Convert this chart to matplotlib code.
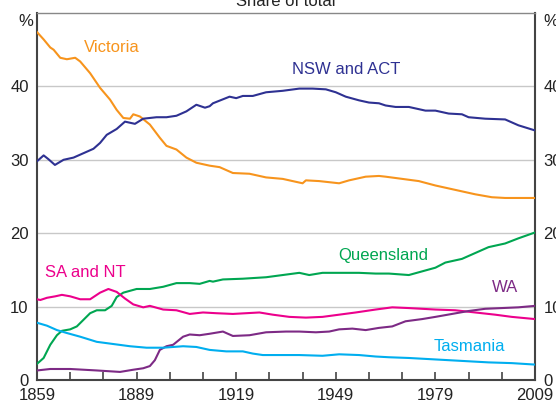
import matplotlib
matplotlib.use("Agg")
import matplotlib.pyplot as plt
from matplotlib.ticker import MultipleLocator, FixedLocator

plt.rcParams['font.family'] = ['Liberation Sans', 'DejaVu Sans']

# ---- data (share of total population, %) ----
vic_years = [1859, 1861, 1863, 1864, 1866, 1868, 1870.5, 1872, 1875, 1878, 1881, 1883, 1885, 1887, 1888,
             1890, 1893, 1896, 1898, 1901, 1904, 1907, 1911, 1914, 1918, 1923, 1928, 1933, 1939, 1940,
             1944, 1950, 1953, 1958, 1962, 1964, 1969, 1974, 1979, 1982, 1987, 1991, 1996, 2000, 2009]
vic_vals = [47.4, 46.4, 45.3, 45.0, 43.9, 43.7, 43.9, 43.4, 41.8, 39.8, 38.2, 36.8, 35.7, 35.6, 36.2,
            35.9, 34.8, 33.0, 31.9, 31.4, 30.3, 29.6, 29.2, 29.0, 28.2, 28.1, 27.6, 27.4, 26.8, 27.2,
            27.1, 26.8, 27.2, 27.7, 27.8, 27.7, 27.4, 27.1, 26.5, 26.2, 25.7, 25.3, 24.9, 24.8, 24.8]

nsw_years = [1859, 1861, 1862.4, 1864.4, 1867, 1870, 1873, 1876, 1878, 1880, 1883, 1885.5, 1888.5, 1891,
             1895, 1898, 1901, 1904, 1907, 1909.6, 1911, 1912, 1917, 1919, 1921, 1924, 1928, 1933, 1938,
             1942, 1946, 1949, 1952, 1956, 1959, 1962, 1964, 1967, 1971, 1976, 1979, 1983, 1987, 1989,
             1994, 2000, 2004, 2009]
nsw_vals = [29.8, 30.6, 30.1, 29.3, 30.0, 30.3, 30.9, 31.5, 32.3, 33.4, 34.2, 35.2, 34.9, 35.6,
            35.8, 35.8, 36.0, 36.6, 37.5, 37.1, 37.3, 37.7, 38.6, 38.4, 38.7, 38.7, 39.2, 39.4, 39.7,
            39.7, 39.6, 39.2, 38.6, 38.1, 37.8, 37.7, 37.4, 37.2, 37.2, 36.7, 36.7, 36.3, 36.2, 35.8,
            35.6, 35.5, 34.7, 34.0]

qld_years = [1859, 1861, 1863, 1865, 1866.5, 1869, 1871, 1873, 1875, 1877, 1879.5, 1881.5, 1883, 1885,
             1889, 1893, 1897, 1901, 1905, 1908, 1911, 1912, 1915, 1921, 1928, 1933, 1938, 1941, 1945,
             1950, 1956, 1961, 1965, 1971, 1975, 1979, 1982, 1987, 1991, 1995, 2000, 2004, 2009]
qld_vals = [2.2, 3.0, 4.8, 6.1, 6.7, 6.9, 7.3, 8.2, 9.1, 9.5, 9.5, 10.1, 11.3, 11.9,
            12.4, 12.4, 12.7, 13.2, 13.2, 13.1, 13.5, 13.4, 13.7, 13.8, 14.0, 14.3, 14.6, 14.3, 14.6,
            14.6, 14.6, 14.5, 14.5, 14.3, 14.8, 15.3, 16.0, 16.5, 17.3, 18.1, 18.6, 19.3, 20.1]

sa_years = [1859, 1860, 1862, 1864.5, 1866.5, 1869, 1872, 1875, 1878, 1880.5, 1883, 1885.5, 1888, 1891,
            1893, 1897, 1901, 1905, 1909, 1913, 1918, 1926, 1930, 1935, 1940, 1945, 1950, 1955, 1961,
            1966, 1971, 1975, 1979, 1985, 1991, 1997, 2002, 2009]
sa_vals = [11.0, 10.9, 11.2, 11.4, 11.6, 11.4, 11.0, 11.0, 11.9, 12.4, 12.0, 11.1, 10.3, 9.9,
           10.1, 9.6, 9.5, 9.0, 9.2, 9.1, 9.0, 9.2, 8.9, 8.6, 8.5, 8.6, 8.9, 9.2, 9.6,
           9.9, 9.8, 9.7, 9.6, 9.5, 9.2, 8.9, 8.6, 8.3]

wa_years = [1859, 1863, 1869, 1877, 1884, 1888, 1891, 1893, 1894.5, 1896, 1898, 1900, 1903, 1905, 1908,
            1911, 1915, 1918, 1923, 1928, 1934, 1938, 1943, 1947, 1950, 1954, 1958, 1962, 1966, 1970,
            1975, 1979, 1984, 1989, 1994, 1999, 2004, 2009]
wa_vals = [1.3, 1.5, 1.5, 1.3, 1.1, 1.4, 1.6, 1.9, 2.7, 4.1, 4.6, 4.8, 5.9, 6.2, 6.1,
           6.3, 6.6, 6.0, 6.1, 6.5, 6.6, 6.6, 6.5, 6.6, 6.9, 7.0, 6.8, 7.1, 7.3, 8.0,
           8.3, 8.6, 9.0, 9.4, 9.7, 9.8, 9.9, 10.1]

tas_years = [1859, 1862, 1865, 1868, 1872, 1877, 1882, 1887, 1892, 1897, 1903, 1907, 1911, 1916, 1921,
             1924, 1927, 1933, 1938, 1945, 1950, 1956, 1961, 1965, 1971, 1979, 1987, 1995, 2002, 2009]
tas_vals = [7.8, 7.4, 6.8, 6.4, 5.9, 5.2, 4.9, 4.6, 4.4, 4.4, 4.6, 4.5, 4.1, 3.9, 3.9,
            3.6, 3.4, 3.4, 3.4, 3.3, 3.5, 3.4, 3.2, 3.1, 3.0, 2.8, 2.6, 2.4, 2.3, 2.1]

x_tick_labels = [1859, 1889, 1919, 1949, 1979, 2009]
y_tick_labels = [0, 10, 20, 30, 40]

# ---- figure ----
fig = plt.figure(figsize=(5.56, 4.08), dpi=100)
ax = fig.add_axes([37/556, 1 - 380/408, 498/556, 367/408])

c_vic = '#F7941D'
c_nsw = '#2E3192'
c_qld = '#00A651'
c_sa = '#EC008C'
c_wa = '#7D2A85'
c_tas = '#00AEEF'

lw = 1.5
ax.plot(vic_years, vic_vals, color=c_vic, lw=lw, zorder=3)
ax.plot(nsw_years, nsw_vals, color=c_nsw, lw=lw, zorder=3)
ax.plot(qld_years, qld_vals, color=c_qld, lw=lw, zorder=3)
ax.plot(sa_years, sa_vals, color=c_sa, lw=lw, zorder=3)
ax.plot(wa_years, wa_vals, color=c_wa, lw=lw, zorder=3)
ax.plot(tas_years, tas_vals, color=c_tas, lw=lw, zorder=3)

fs = 12
ax.text(1873.2, 45.3, 'Victoria', color=c_vic, fontsize=fs, ha='left', va='center')
ax.text(1935.8, 42.3, 'NSW and ACT', color=c_nsw, fontsize=fs, ha='left', va='center')
ax.text(1949.7, 16.9, 'Queensland', color=c_qld, fontsize=fs, ha='left', va='center')
ax.text(1861.4, 14.7, 'SA and NT', color=c_sa, fontsize=fs, ha='left', va='center')
ax.text(1996.0, 12.55, 'WA', color=c_wa, fontsize=fs, ha='left', va='center')
ax.text(1978.6, 4.6, 'Tasmania', color=c_tas, fontsize=fs, ha='left', va='center')

ax.set_xlim(1859, 2009)
ax.set_ylim(0, 50)

ax.xaxis.set_major_locator(FixedLocator(x_tick_labels))
ax.xaxis.set_minor_locator(MultipleLocator(10, offset=9))
ax.set_xticks(x_tick_labels)
ax.set_xticklabels([str(v) for v in x_tick_labels])
ax.set_yticks(y_tick_labels)
ax.set_yticklabels([str(v) for v in y_tick_labels])

ax.tick_params(axis='x', which='both', direction='in', length=6, width=1.2, color='#444444',
               labelsize=fs, pad=6, labelcolor='#222222', top=False)
ax.tick_params(axis='y', which='both', length=0, labelsize=fs, pad=6, labelcolor='#222222',
               left=True, right=True, labelleft=True, labelright=True)

ax.grid(axis='y', color='#C8C8C8', lw=1.0, zorder=0)
ax.set_axisbelow(True)

for s in ['left', 'right', 'bottom']:
    ax.spines[s].set_color('#444444')
    ax.spines[s].set_linewidth(1.5)
ax.spines['top'].set_color('#888888')
ax.spines['top'].set_linewidth(1.0)

# % markers
fig.text(26/556, 1 - 22/408, '%', fontsize=fs, ha='center', va='center', color='#222222')
fig.text(543/556, 1 - 22/408, '%', fontsize=fs, ha='left', va='center', color='#222222')

# title (partly cut off at top)
fig.text(286/556, 1 - 6/408, 'Share of total', fontsize=fs, ha='center', va='baseline', color='#222222')

fig.savefig('out.png', dpi=100)
